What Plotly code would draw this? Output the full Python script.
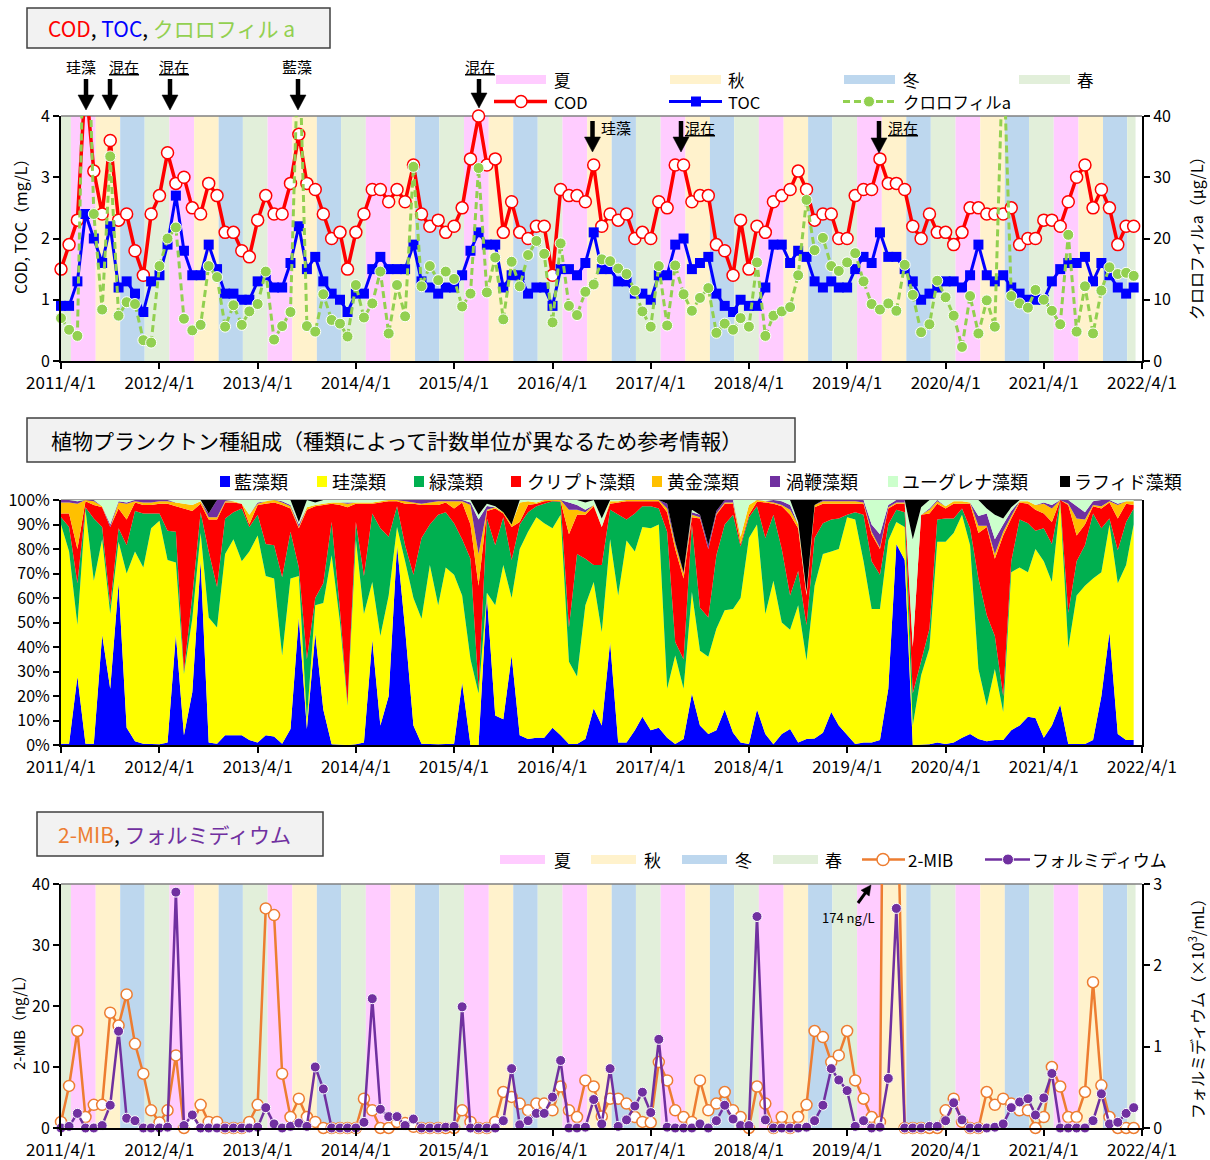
import math
import plotly.graph_objects as go
import pandas as pd

W, H = 1210, 1160
def px(x): return x / W
def py(y): return 1 - y / H

FONT = "Noto Sans CJK JP, Noto Sans, sans-serif"

months = pd.date_range('2011-04-01', '2022-03-01', freq='MS')
years = list(range(2011, 2023))
tick_vals = [f"{y}-04-01" for y in years]
tick_text = [f"{y}/4/1" for y in years]

# ---------------- top panel data ----------------
cod = [1.5, 1.9, 2.3, 4.6, 3.1, 2.4, 3.6, 2.3, 2.4, 1.8,
       1.4, 2.4, 2.7, 3.4, 2.9, 3.0, 2.5, 2.4, 2.9, 2.7,
       2.1, 2.1, 1.8, 1.7, 2.3, 2.7, 2.4, 2.4, 2.9, 3.7,
       2.9, 2.8, 2.4, 2.0, 2.1, 1.5, 2.1, 2.4, 2.8, 2.8,
       2.6, 2.8, 2.6, 3.2, 2.4, 2.2, 2.3, 2.1, 2.2, 2.5,
       3.3, 4.0, 3.2, 3.3, 2.1, 2.6, 2.1, 2.0, 2.2, 2.2,
       1.4, 2.8, 2.7, 2.7, 2.6, 3.2, 2.2, 2.4, 2.3, 2.4,
       2.0, 2.1, 2.0, 2.6, 2.5, 3.2, 3.2, 2.6, 2.7, 2.7,
       1.9, 1.8, 1.4, 2.3, 1.5, 2.2, 2.1, 2.6, 2.7, 2.8,
       3.1, 2.8, 2.3, 2.4, 2.4, 2.0, 2.0, 2.7, 2.8, 2.8,
       3.3, 2.9, 2.9, 2.8, 2.2, 2.0, 2.4, 2.1, 2.1, 1.9,
       2.1, 2.5, 2.5, 2.4, 2.4, 2.4, 2.5, 1.9, 2.0, 2.0,
       2.3, 2.3, 2.2, 2.6, 3.0, 3.2, 2.5, 2.8, 2.5, 1.9,
       2.2, 2.2]
toc = [0.9, 0.9, 1.3, 2.4, 2.0, 1.6, 2.2, 1.2, 1.3, 1.1,
       0.8, 1.3, 1.4, 1.9, 2.7, 1.8, 1.4, 1.4, 1.9, 1.5,
       1.1, 1.1, 1.0, 1.0, 1.3, 1.4, 1.2, 1.2, 1.6, 2.2,
       1.5, 1.7, 1.3, 1.1, 1.0, 0.8, 1.1, 1.1, 1.5, 1.7,
       1.5, 1.5, 1.5, 1.9, 1.3, 1.2, 1.1, 1.2, 1.2, 1.4,
       1.8, 2.1, 1.9, 1.9, 1.2, 1.4, 1.4, 1.1, 1.2, 1.2,
       0.9, 1.5, 1.5, 1.4, 1.6, 2.1, 1.5, 1.5, 1.3, 1.3,
       1.1, 1.1, 1.0, 1.4, 1.4, 1.9, 2.0, 1.5, 1.6, 1.7,
       1.1, 0.9, 0.8, 1.0, 0.9, 0.9, 1.2, 1.9, 1.9, 1.6,
       1.8, 1.7, 1.3, 1.2, 1.3, 1.2, 1.2, 1.5, 1.7, 1.6,
       2.1, 1.7, 1.7, 1.5, 1.3, 1.0, 1.1, 1.2, 1.3, 1.3,
       1.2, 1.4, 1.9, 1.4, 1.3, 1.4, 1.2, 1.1, 1.0, 1.0,
       1.0, 1.3, 1.5, 1.6, 1.6, 1.7, 1.3, 1.6, 1.4, 1.2,
       1.1, 1.2]
chla = [7.0, 5.1, 4.1, 70, 24.0, 8.4, 33.4, 7.4, 9.6, 9.3,
        3.4, 3.0, 15.5, 20.0, 21.8, 6.9, 5.0, 5.9, 15.5, 13.7,
        5.6, 9.1, 5.9, 8.1, 9.3, 14.6, 3.5, 5.7, 8.0, 55,
        5.7, 4.8, 10.9, 6.7, 6.1, 4.0, 12.4, 7.1, 9.4, 14.6,
        4.5, 12.4, 7.3, 31.7, 12.2, 15.5, 13.2, 14.6, 13.4, 8.9,
        11.0, 31.5, 11.2, 16.9, 6.8, 16.2, 12.2, 17.3, 19.6, 17.5,
        6.3, 19.2, 9.0, 7.5, 11.3, 12.5, 16.6, 16.3, 15.1, 14.2,
        11.5, 8.1, 5.6, 15.5, 5.8, 15.6, 10.9, 8.2, 10.3, 11.9,
        4.6, 6.1, 5.1, 7.0, 5.6, 16.1, 4.1, 7.4, 8.1, 8.8,
        14.0, 26.3, 18.1, 20.1, 15.5, 14.7, 16.1, 17.6, 13.0, 9.3,
        8.4, 9.4, 8.2, 15.7, 10.8, 4.7, 6.0, 13.1, 10.4, 7.4,
        2.3, 10.6, 4.5, 9.9, 5.6, 52, 10.6, 9.4, 8.7, 11.6,
        10.0, 8.2, 6.0, 20.6, 4.8, 12.2, 4.5, 11.5, 15.3, 14.2,
        14.4, 13.9]

# ---------------- middle panel data (%) ----------------
aizou = [0.5, 0.5, 28, 0.5, 0.5, 45, 23, 66, 7, 1.5,
         0.5, 0.3, 0.3, 1, 45, 4, 21.5, 75, 1, 0.5,
         4, 4, 4, 2, 1, 4, 3.5, 0.5, 6.5, 52,
         6.5, 45.5, 14.5, 0.3, 0, 0, 0.3, 1, 43, 8,
         20, 81.5, 47.5, 8, 0.5, 0.3, 0.3, 0.4, 0.5, 25.5,
         0, 0, 61, 12, 10.5, 36.5, 4, 2.5, 3, 3,
         7, 4, 0.4, 0.4, 2.5, 15, 8, 42, 1, 1,
         6, 11.5, 6, 7, 3, 0.4, 2.5, 21, 8, 4.5,
         6, 14.5, 5, 1, 0.4, 14.5, 4.5, 0.3, 4.5, 6.5,
         1, 2.5, 2.7, 5, 13.5, 8, 4, 0.4, 1, 1,
         2, 23, 82, 75.5, 0, 0, 0.3, 1, 0.4, 1,
         3, 4.5, 2.5, 1.5, 2, 2, 6, 8, 11.5, 11,
         3, 8, 16.5, 0.4, 0.4, 0.4, 2, 20, 46, 4.5,
         2, 2]
keisou = [89.5, 78.5, 21, 95.5, 66.5, 39, 30.5, 17, 63, 77.5,
          72, 88.2, 91.2, 74.5, 29.5, 25, 30, 11.5, 51, 47.5,
          74, 80, 71, 77, 84.5, 65, 64.5, 36, 61.5, 17,
          4, 11.5, 43.5, 77.2, 50, 16, 83.7, 52.5, 23.5, 36.5,
          41, 7.5, 27.5, 52, 51, 73.2, 56.7, 72.1, 69, 35.5,
          35, 21, 1.5, 45, 63, 23.5, 76, 84.5, 90, 87.5,
          81.5, 90, 33.6, 27.6, 54.5, 51.5, 38, 42, 60, 82.5,
          73, 77.5, 82.5, 83, 20, 36.1, 20.5, 41.5, 30.5, 31.5,
          41.5, 40.5, 50.5, 59, 84.1, 75.5, 49, 66.7, 45.5, 40.5,
          56, 32, 62.3, 73, 65.5, 72, 89, 91.6, 74, 54.5,
          53.5, 60.5, 9, 13.5, 8, 28.5, 39.2, 82, 82.6, 85.5,
          91, 77, 28.5, 14.5, 29, 11.5, 64.5, 64.5, 59, 69,
          72, 58.5, 82.5, 39.1, 60.6, 64.6, 66, 50.5, 44, 61.5,
          71.5, 88]
ryokusou = [3, 10, 17, 1, 25.5, 5, 3.5, 5.5, 11.5, 16.5,
            22, 6, 3, 12, 12.5, 1, 9.5, 8.5, 27, 16.5,
            14.5, 11, 21.5, 10, 8.5, 13, 13.5, 32, 19, 3.5,
            24.5, 3, 8, 13.5, 5, 1, 7, 15.5, 28, 44,
            24, 8.5, 6.5, 9.5, 33, 16.5, 37, 22.5, 21, 23,
            41, 2, 30.5, 24.5, 19.5, 15.5, 10, 8, 4.5, 8,
            11, 5.3, 14, 50, 19, 7, 27.5, 12, 33, 8.5,
            15.5, 8.5, 9, 6.5, 64, 5.5, 12, 27.5, 17.5, 16,
            30, 35, 38.5, 21, 8.5, 7.5, 31, 27, 30, 14,
            14, 14.5, 19.5, 12.5, 13, 12.5, 1, 3, 19, 19.5,
            14, 6.5, 5, 6, 13, 5.5, 8, 9, 9.5, 6,
            2.5, 7, 37, 37, 13.5, 6.5, 4.5, 19.5, 20, 7.5,
            13.5, 15.5, 0.5, 14.5, 14, 16.5, 26.5, 18, 2.5, 13.5,
            17.5, 6.5]
kuriputo = [1.5, 5.5, 14, 2.5, 5.5, 8, 32, 8, 10.5, 3.5,
            3.5, 3.5, 4, 11, 10.5, 66.5, 34.5, 3.5, 13, 27.5,
            6.5, 4, 2, 1, 4, 16.5, 17.5, 29.5, 9.5, 16,
            61, 37.5, 32, 7.5, 43, 80, 7.5, 29.5, 4, 10.5,
            14.5, 2, 17, 29, 13.5, 8, 4, 4, 6, 15,
            14, 42, 3, 15, 1.5, 13.5, 1, 3, 1, 1,
            0.2, 0.2, 38, 16, 18, 24, 15.5, 2.5, 5, 7.5,
            5, 2, 2, 3, 8, 38, 33, 3, 36.5, 28,
            16.5, 8.5, 4.5, 1, 1, 1.8, 14.5, 4.5, 17.5, 33,
            17.5, 12, 12.5, 8, 6.5, 6, 4.5, 3.5, 4.5, 11,
            10.5, 6.5, 2.5, 3.5, 19, 60, 47, 6.5, 4, 6,
            2, 10, 18.5, 36, 31.5, 65.5, 17.5, 7, 8, 8.5,
            6, 9, 0.5, 44, 10.5, 8.5, 3, 8, 6.5, 13,
            7.5, 1.5]
ougon = [4.5, 4.5, 18.5, 0.5, 1.5, 0.5, 0, 2.5, 6.5, 0.5,
         1, 1, 1, 1, 1.5, 2, 2.5, 1, 1, 1,
         0.5, 0.5, 0, 4, 0.5, 1, 1, 1, 1, 0.5,
         1, 0.5, 0.5, 0.5, 1, 1.5, 0.5, 0.5, 0.5, 0.5,
         0.5, 0.5, 1, 0.5, 0.5, 1, 1.5, 0.5, 3, 0.5,
         8, 13, 0.5, 0.5, 0.5, 1, 8, 1.5, 0.5, 0.5,
         0.3, 0.5, 10, 2, 1, 0.5, 0, 1, 0.5, 0.5,
         0.5, 0.5, 0.5, 0.5, 1.5, 2, 2, 1, 0.5, 0,
         0.5, 0.5, 0.5, 3, 4, 0.7, 0.5, 0.5, 0.5, 2,
         1.5, 0.5, 1, 1, 1, 1, 1, 1, 0.5, 1,
         0.5, 0.5, 0.5, 0.5, 0, 0, 1.5, 1, 1, 1,
         1, 0.5, 3, 0.5, 2, 1.5, 1, 0.5, 1, 2,
         4, 5.5, 0, 0.5, 7, 2, 0.5, 1, 0.5, 5.5,
         1, 1.5]
uzuben = [1, 1, 1, 0, 0.5, 0, 1, 0.5, 0.5, 0.5,
          1, 1, 0.5, 0.5, 0, 0, 0, 0, 1.5, 7,
          0.5, 0, 0, 0, 0.5, 0, 0, 0.5, 0.5, 1,
          0, 0, 0, 0, 0, 0.5, 0, 0, 0, 0,
          0, 0, 0.5, 1, 1.5, 1, 0.5, 0.5, 0.5, 0.5,
          1, 14, 1.5, 0, 0, 0, 0, 0, 0, 0,
          0, 0, 3, 2, 1, 0, 0, 0, 0, 0,
          0, 0, 0, 0, 2, 1, 0.5, 1, 1, 1.5,
          1, 1, 1, 0, 0, 0, 0, 1, 1.5, 2,
          0, 0, 0, 0.5, 0.5, 0.5, 0.5, 0.5, 1, 3,
          5.5, 1, 1, 1, 0, 0, 0.5, 0.5, 0, 0,
          0, 0, 4, 5, 6, 3, 2, 0, 0, 0,
          0.5, 1.5, 0, 1.5, 5, 3, 1.5, 2.5, 0.5, 0.5,
          0, 0]
euglena = [0, 0, 0.5, 0, 0, 2.5, 10, 0.5, 1, 0,
           0, 0, 0, 0, 1, 1.5, 2, 0.5, 0, 0,
           0, 0.5, 1.5, 6, 1, 0.5, 0, 0.5, 2, 1,
           3, 1, 1.5, 1, 1, 1, 1, 1, 1, 0.5,
           0, 0, 0, 0, 0, 0, 0, 0, 0, 0,
           1, 2, 1, 0.5, 0, 0, 1, 0.5, 1, 0,
           0, 0, 1, 2, 3, 2, 3.5, 0.5, 0.5, 0,
           0, 0, 0, 0, 0, 0, 0, 1, 0, 0,
           0, 0, 0, 15, 2, 0, 0.5, 0, 0.5, 2,
           1, 1, 0, 0, 0, 0, 0, 0, 0, 10,
           14, 2, 0, 0, 44, 3, 3.5, 0, 2.5, 0.5,
           0.5, 1, 6.5, 2, 10, 2.5, 1.5, 0.5, 0.5, 2,
           1, 2, 0, 0, 2.5, 5, 0.5, 0, 0, 1.5,
           0.5, 0.5]
raphido = [0, 0, 0, 0, 0, 0, 0, 0, 0, 0,
           0, 0, 0, 0, 0, 0, 0, 0, 5.5, 0,
           0, 0, 0, 0, 0, 0, 0, 0, 0, 9,
           0, 1, 0, 0, 0, 0, 0, 0, 0, 0,
           0, 0, 0, 0, 0, 0, 0, 0, 0, 0,
           0, 6, 1.5, 2.5, 5, 10, 0, 0, 0, 0,
           0, 0, 0, 0, 1, 0, 7.5, 0, 0, 0,
           0, 0, 0, 0, 1.5, 17, 29.5, 4, 6, 18.5,
           4.5, 0, 0, 0, 0, 0, 0, 0, 0, 0,
           9, 37.5, 2, 0, 0, 0, 0, 0, 0, 0,
           0, 0, 0, 0, 16, 3, 0, 0, 0, 0,
           0, 0, 0, 3.5, 6, 7.5, 3, 0, 0, 0,
           0, 0, 0, 0, 0, 0, 0, 0, 0, 0,
           0, 0]

# ---------------- bottom panel data ----------------
mib = [1.0, 6.9, 15.9, 1.8, 3.8, 3.8, 18.9, 16.8, 21.9, 13.8,
       8.9, 2.9, 0.9, 2.9, 11.9, 0, 0.7, 3.8, 1.0, 1.0,
       0, 0, 0, 1.0, 3.8, 36.0, 34.9, 8.9, 1.8, 4.8,
       1.8, 1.0, 0, 0, 0, 0, 0, 4.8, 2.9, 0,
       0, 1.0, 0.8, 0.2, 0, 0, 0, 0, 0, 2.9,
       1.0, 0, 0, 1.0, 5.9, 5.1, 4.0, 2.9, 4.0, 4.0,
       2.9, 6.8, 2.9, 1.8, 7.8, 6.8, 1.9, 4.8, 4.8, 4.0,
       1.8, 1.0, 0.9, 10.8, 7.8, 2.9, 1.8, 1.0, 7.8, 2.9,
       4.0, 5.9, 2.9, 1.8, 0, 6.8, 4.0, 0, 1.8, 0,
       1.8, 3.8, 15.9, 14.9, 10.8, 11.9, 15.9, 7.8, 4.8, 1.8,
       1.0, 174, 63, 0, 0, 0, 0, 0, 2.9, 4.8,
       1.0, 0, 0, 5.9, 3.8, 4.8, 4.0, 2.9, 2.9, 0,
       1.8, 10.0, 6.8, 1.8, 1.8, 5.9, 23.9, 7.0, 1.8, 0,
       0, 0]
phorm = [0, 0.02, 0.18, 0, 0, 0.03, 0.28, 1.19, 0.12, 0.09,
         0, 0, 0, 0.01, 2.9, 0.03, 0.16, 0, 0, 0,
         0, 0, 0, 0, 0.01, 0.25, 0.05, 0, 0.02, 0.06,
         0.02, 0.75, 0.48, 0, 0, 0, 0, 0.07, 1.59, 0.23,
         0.14, 0.14, 0.03, 0.11, 0, 0, 0, 0.01, 0.02, 1.49,
         0, 0, 0, 0, 0.09, 0.73, 0.04, 0.09, 0.18, 0.18,
         0.38, 0.83, 0, 0, 0.01, 0.35, 0.05, 0.73, 0.02, 0.10,
         0.27, 0.44, 0.19, 1.09, 0.01, 0, 0, 0, 0.05, 0,
         0.09, 0.28, 0.11, 0.03, 0.03, 2.6, 0.10, 0, 0, 0,
         0, 0.01, 0.09, 0.28, 0.73, 0.59, 0.46, 0.02, 0.09, 0,
         0.01, 0.61, 2.7, 0, 0, 0, 0.02, 0.02, 0.09, 0.31,
         0.1, 0, 0, 0, 0.01, 0.05, 0.25, 0.32, 0.36, 0.16,
         0.37, 0.67, 0, 0, 0, 0, 0.09, 0.42, 0.05, 0.07,
         0.18, 0.25]

season_names = ['夏', '秋', '冬', '春']
season_colors = {'夏': '#FFCCFF', '秋': '#FFF2CC', '冬': '#BDD7EE', '春': '#E2EFDA'}
def season_of(m):
    if m in (3, 4, 5):
        return '春'
    if m in (6, 7, 8):
        return '夏'
    if m in (9, 10, 11):
        return '秋'
    return '冬'

phyto = [('藍藻類', aizou, '#0000FF'), ('珪藻類', keisou, '#FFFF00'),
         ('緑藻類', ryokusou, '#00B050'), ('クリプト藻類', kuriputo, '#FF0000'),
         ('黄金藻類', ougon, '#FFC000'), ('渦鞭藻類', uzuben, '#7030A0'),
         ('ユーグレナ藻類', euglena, '#CCFFCC'), ('ラフィド藻類', raphido, '#000000')]

def shown(vals, top):
    # markers beyond the axis top are hidden (line still clipped by the plot area)
    return [1 if v <= top else 0 for v in vals]

fig = go.Figure()

# top panel traces
fig.add_trace(go.Scatter(x=months, y=cod, xaxis='x', yaxis='y', mode='lines+markers', name='COD',
                         cliponaxis=False,
                         line=dict(color='#FF0000', width=3.5),
                         marker=dict(symbol='circle', size=12, color='white', opacity=shown(cod, 4),
                                     line=dict(color='#FF0000', width=1.5))))
fig.add_trace(go.Scatter(x=months, y=toc, xaxis='x', yaxis='y', mode='lines+markers', name='TOC',
                         cliponaxis=False,
                         line=dict(color='#0000FF', width=3),
                         marker=dict(symbol='square', size=10, color='#0000FF')))
fig.add_trace(go.Scatter(x=months, y=chla, xaxis='x', yaxis='y2', mode='lines+markers', name='クロロフィルa',
                         cliponaxis=False,
                         line=dict(color='#92D050', width=3, dash='7px,4px'),
                         marker=dict(symbol='circle', size=11, color='#92D050', opacity=shown(chla, 40),
                                     line=dict(color='white', width=1))))

# middle panel
for name, vals, col in phyto:
    fig.add_trace(go.Scatter(x=months, y=vals, xaxis='x2', yaxis='y3', name=name,
                             stackgroup='one', groupnorm='percent', mode='lines',
                             line=dict(width=0, color=col), fillcolor=col))

# bottom panel
fig.add_trace(go.Scatter(x=months, y=mib, xaxis='x3', yaxis='y4', mode='lines+markers', name='2-MIB',
                         cliponaxis=False,
                         line=dict(color='#ED7D31', width=2.5),
                         marker=dict(symbol='circle', size=11, color='white', opacity=shown(mib, 40),
                                     line=dict(color='#ED7D31', width=1.5))))
fig.add_trace(go.Scatter(x=months, y=phorm, xaxis='x3', yaxis='y5', mode='lines+markers', name='フォルミディウム',
                         cliponaxis=False,
                         line=dict(color='#7030A0', width=2.5),
                         marker=dict(symbol='circle', size=10, color='#7030A0',
                                     line=dict(color='white', width=1))))

XD = [px(61), px(1142)]
Y1 = [py(361), py(116)]
Y2 = [py(745), py(500)]
Y3 = [py(1128), py(884)]

xcommon = dict(type='date', range=['2011-04-01', '2022-04-01'], tickvals=tick_vals, ticktext=tick_text,
               ticks='outside', ticklen=6, tickwidth=1.5, tickcolor='black', showline=True,
               linecolor='black', linewidth=2, showgrid=False, zeroline=False, automargin=False,
               tickfont=dict(size=17, color='black'))
ycommon = dict(ticks='outside', ticklen=6, tickwidth=1.5, tickcolor='black', showline=True,
               linecolor='black', linewidth=2, showgrid=False, zeroline=False, automargin=False,
               tickfont=dict(size=16, color='black'))

fig.update_layout(
    width=W, height=H, margin=dict(l=0, r=0, t=0, b=0, pad=0, autoexpand=False),
    paper_bgcolor='white', plot_bgcolor='white', showlegend=False,
    font=dict(family=FONT, color='black'),
    xaxis=dict(domain=XD, anchor='y', **xcommon),
    yaxis=dict(domain=Y1, anchor='x', range=[0, 4], dtick=1, **ycommon),
    yaxis2=dict(overlaying='y', side='right', anchor='x', range=[0, 40], dtick=10, **ycommon),
    xaxis2=dict(domain=XD, anchor='y3', **xcommon),
    yaxis3=dict(domain=Y2, anchor='x2', range=[0, 100], tickvals=list(range(0, 101, 10)),
                ticktext=[f"{v}%" for v in range(0, 101, 10)], mirror=True, **ycommon),
    xaxis3=dict(domain=XD, anchor='y4', **xcommon),
    yaxis4=dict(domain=Y3, anchor='x3', range=[0, 40], dtick=10, **ycommon),
    yaxis5=dict(overlaying='y4', side='right', anchor='x3', range=[0, 3], dtick=1, **ycommon),
)

shapes = []
annots = []

# seasonal bands (from the sample months)
blocks = []
for d in months:
    s = season_of(d.month)
    if blocks and blocks[-1][0] == s:
        blocks[-1][2] = d
    else:
        blocks.append([s, d, d])
start = pd.Timestamp('2011-04-01')
for s, d0, d1 in blocks:
    x0 = max(d0 - pd.Timedelta(days=24), start)
    x1 = d1 + pd.DateOffset(months=1) - pd.Timedelta(days=24)
    for yr in ('y domain', 'y4 domain'):
        shapes.append(dict(type='rect', xref='x', yref=yr, x0=x0, x1=x1, y0=0, y1=1,
                           fillcolor=season_colors[s], line=dict(width=0), layer='below'))

# plot-area top borders
for yy in (116, 500, 884):
    shapes.append(dict(type='line', xref='paper', yref='paper', x0=px(61), x1=px(1142),
                       y0=py(yy), y1=py(yy), line=dict(color='#808080', width=1.5), layer='below'))

def box(x0, y0, x1, y1):
    shapes.append(dict(type='rect', xref='paper', yref='paper', x0=px(x0), x1=px(x1),
                       y0=py(y1), y1=py(y0), fillcolor='#F2F2F2',
                       line=dict(color='#404040', width=1.5)))

def text(x, y, t, size, anchor='left', color='black', angle=0):
    annots.append(dict(xref='paper', yref='paper', x=px(x), y=py(y), text=t, showarrow=False,
                       xanchor=anchor, yanchor='middle', textangle=angle, borderpad=0,
                       font=dict(size=size, color=color, family=FONT)))

def rect(x0, y0, x1, y1, col):
    shapes.append(dict(type='rect', xref='paper', yref='paper', x0=px(x0), x1=px(x1),
                       y0=py(y1), y1=py(y0), fillcolor=col, line=dict(width=0)))

def hline(x0, x1, y, col, width, dash='solid'):
    shapes.append(dict(type='line', xref='paper', yref='paper', x0=px(x0), x1=px(x1),
                       y0=py(y), y1=py(y), line=dict(color=col, width=width, dash=dash)))

def circle(cx, cy, r, fill, edge, ew):
    shapes.append(dict(type='circle', xref='paper', yref='paper', x0=px(cx - r), x1=px(cx + r),
                       y0=py(cy + r), y1=py(cy - r), fillcolor=fill, line=dict(color=edge, width=ew)))

def arrow(xh, yh, xt, yt, shaft=4.5, hw=16, hl=15):
    dx, dy = xh - xt, yh - yt
    L = math.hypot(dx, dy)
    ux, uy = dx / L, dy / L
    bx, by = xh - ux * hl, yh - uy * hl
    shapes.append(dict(type='line', xref='paper', yref='paper', x0=px(xt), y0=py(yt),
                       x1=px(bx + ux), y1=py(by + uy), line=dict(color='black', width=shaft)))
    nx, ny = -uy, ux
    p1 = (bx + nx * hw / 2, by + ny * hw / 2)
    p2 = (bx - nx * hw / 2, by - ny * hw / 2)
    path = (f"M{px(xh)},{py(yh)} L{px(p1[0])},{py(p1[1])} L{px(p2[0])},{py(p2[1])} Z")
    shapes.append(dict(type='path', xref='paper', yref='paper', path=path,
                       fillcolor='black', line=dict(color='black', width=0.5)))

# ---- panel 1 title & legend ----
box(27, 8, 330, 48)
text(47, 28, '<span style="color:#FF0000">COD</span>, <span style="color:#0000FF">TOC</span>, '
     '<span style="color:#92D050">クロロフィル a</span>', 21)
for (x0, x1, lx), s in zip([(496, 546, 553), (670, 721, 727), (844, 895, 902), (1019, 1070, 1076)],
                           season_names):
    rect(x0, 75, x1, 84, season_colors[s])
    text(lx, 80, s, 16.5)
hline(494, 547, 101.5, '#FF0000', 3.5)
circle(521, 101.5, 6, 'white', '#FF0000', 1.5)
text(553, 102, 'COD', 16.5)
hline(669, 722, 101.5, '#0000FF', 3)
rect(691, 96.5, 701, 106.5, '#0000FF')
text(727, 102, 'TOC', 16.5)
hline(843, 896, 101.5, '#92D050', 3, '7px,4px')
circle(869, 101.5, 5.5, '#92D050', 'white', 1)
text(902, 102, 'クロロフィルa', 16.5)

# axis titles panel 1
text(20, 222, 'COD, TOC（mg/L）', 16, anchor='center', angle=-90)
text(1196, 234, 'クロロフィルa（μg/L）', 16, anchor='center', angle=-90)

# dominant species arrows
for xt, yt, t, xa, yh, ytail in [(81, 66, '珪藻', 86, 110, 79), (123.5, 66, '<u>混在</u>', 110, 110, 79),
                                 (174, 66, '<u>混在</u>', 170, 110, 79), (296.5, 66, '藍藻', 298, 110, 79),
                                 (480, 66, '<u>混在</u>', 479, 108, 79),
                                 (615.5, 127.5, '珪藻', 592.5, 152, 121),
                                 (700.5, 127.5, '<u>混在</u>', 681, 152, 121),
                                 (903, 127.5, '<u>混在</u>', 879, 153, 121)]:
    text(xt, yt, t, 15, anchor='center')
    arrow(xa, yh, xa, ytail)

# ---- panel 2 title & legend ----
box(27, 418, 795, 462)
text(50, 440, '植物プランクトン種組成（種類によって計数単位が異なるため参考情報）', 21)
leg2 = [(220, 233), (317, 331), (414, 428), (511, 526), (652, 666), (770, 785), (888, 901), (1060, 1073)]
for (sx, lx), (name, vals, col) in zip(leg2, phyto):
    rect(sx, 476, sx + 10, 487, col)
    text(lx, 481, name, 18)

# ---- panel 3 title & legend ----
box(37, 812, 323, 856)
text(57, 834, '<span style="color:#ED7D31">2-MIB</span>, <span style="color:#7030A0">フォルミディウム</span>', 21)
for (x0, x1, lx), s in zip([(500, 545, 553), (591, 636, 643), (682, 727, 734), (773, 818, 824)],
                           season_names):
    rect(x0, 855, x1, 864, season_colors[s])
    text(lx, 859.5, s, 17)
hline(862, 905, 859.5, '#ED7D31', 2.5)
circle(883, 859.5, 6, 'white', '#ED7D31', 1.5)
text(907, 859.5, '2-MIB', 17)
hline(985, 1030, 859.5, '#7030A0', 2.5)
circle(1008, 859.5, 5.5, '#7030A0', 'white', 1)
text(1031, 859.5, 'フォルミディウム', 17)

text(18, 1019, '2-MIB（ng/L）', 15, anchor='center', angle=-90)
text(1196, 1005, 'フォルミディウム（×10<sup>3</sup>/mL）', 16, anchor='center', angle=-90)

text(848.5, 917, '174 ng/L', 13, anchor='center')
arrow(871, 885, 858, 903, shaft=3, hw=10, hl=10)

fig.update_layout(shapes=shapes, annotations=annots)
fig.write_html('out.html')
